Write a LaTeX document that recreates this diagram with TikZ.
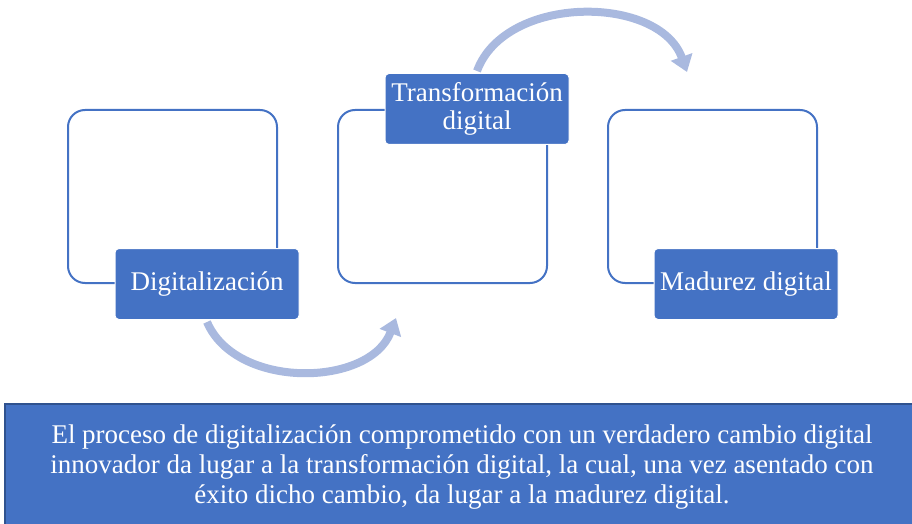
\documentclass[tikz,border=0pt]{standalone}
\usepackage{fontspec}
\setmainfont{Liberation Serif}
\usetikzlibrary{positioning,arrows.meta}

\definecolor{officeBlue}{HTML}{4472C4}
\definecolor{edgeBlue}{HTML}{2F528F}
\definecolor{flowBlue}{HTML}{A9B9DF}

\tikzset{
  frameBox/.style={draw=officeBlue, line width=2pt, rounded corners=17pt,
    minimum width=209pt, minimum height=173pt, fill=white},
  stageBox/.style={fill=officeBlue, draw=white, line width=1pt,
    rounded corners=4pt, minimum width=184pt, minimum height=71pt,
    text=white, align=center, font=\fontsize{27}{28}\selectfont},
  flow/.style={flowBlue, line width=8pt,
    -{Triangle[length=16pt, width=22pt]}}
}

\begin{document}
\begin{tikzpicture}[x=1pt, y=1pt, node distance=59pt]
  \useasboundingbox (0,0) rectangle (912,523);
  % outline frames
  \node[frameBox] (frameA) at (172.5, 326.5) {};
  \node[frameBox, right = of frameA] (frameB) {};
  \node[frameBox, right = of frameB] (frameC) {};
  % filled labels
  \node[stageBox] (digit) at ([xshift=34.5pt]frameA.south) {Digitalización};
  \node[stageBox] (transf) at ([xshift=34.5pt]frameB.north)
    {Transformación\\digital};
  \node[stageBox] (madur) at ([xshift=33.5pt]frameC.south) {Madurez digital};
  % arrow ends
  \coordinate (flowEndA) at (396, 205);
  \coordinate (flowEndB) at (687, 451);
  \draw[flow] ([yshift=-2pt]digit.south) to[bend right=68] (flowEndA);
  \draw[flow] ([yshift=2pt]transf.north) to[bend left=70] (flowEndB);
  % summary box
  \draw[fill=officeBlue, draw=edgeBlue, line width=1.5pt]
    (5, -20) rectangle (950, 119);
  \node[text=white, align=center, font=\fontsize{27}{30}\selectfont]
    (summaryText) at (462, 56)
    {El proceso de digitalización comprometido con un verdadero cambio digital\\
     innovador da lugar a la transformación digital, la cual, una vez asentado con\\
     éxito dicho cambio, da lugar a la madurez digital.};
\end{tikzpicture}
\end{document}
